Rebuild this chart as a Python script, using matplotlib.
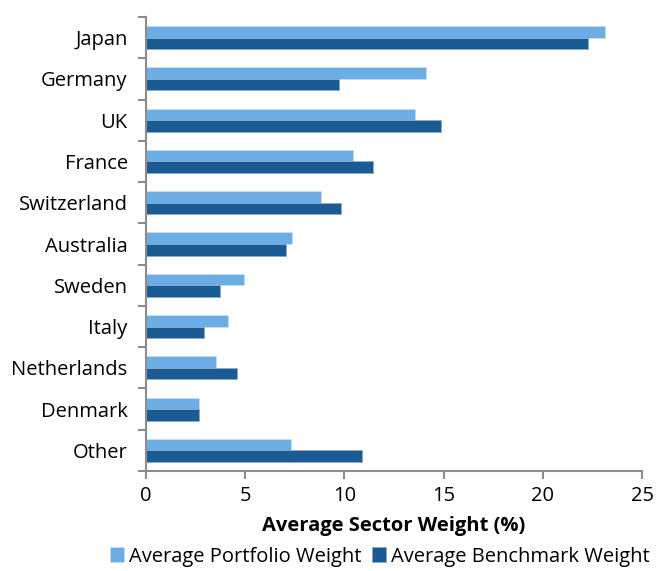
import matplotlib
matplotlib.use("Agg")
import matplotlib.pyplot as plt
import numpy as np

categories = ["Japan", "Germany", "UK", "France", "Switzerland", "Australia",
              "Sweden", "Italy", "Netherlands", "Denmark", "Other"]
portfolio = [23.1, 14.1, 13.55, 10.45, 8.8, 7.35, 4.93, 4.14, 3.55, 2.7, 7.31]
benchmark = [22.28, 9.74, 14.85, 11.42, 9.85, 7.06, 3.76, 2.93, 4.58, 2.68, 10.89]
series_names = ["Average Portfolio Weight", "Average Benchmark Weight"]
xticks = [0, 5, 10, 15, 20, 25]

plt.rcParams['font.family'] = ['Open Sans', 'DejaVu Sans']
fs = 14.5

fig = plt.figure(figsize=(6.57, 5.71), dpi=100)
ax = fig.add_axes([0.2218, 0.1751, 0.7558, 0.7951])

n = len(categories)
y = np.arange(n)
h = 0.28
light = "#6CADE5"
dark = "#1B5B93"
ax.barh(y - h / 2, portfolio, height=h, color=light, edgecolor="#C9DDF0",
        linewidth=0.6, label=series_names[0])
ax.barh(y + h / 2, benchmark, height=h, color=dark, edgecolor="#8FA9C4",
        linewidth=0.6, label=series_names[1])

ax.set_ylim(n - 0.5, -0.5)
ax.set_xlim(0, 25)
ax.set_yticks(y)
ax.set_yticklabels(categories, fontsize=fs)
ax.tick_params(axis='y', which='major', length=0, pad=13)
ax.set_yticks(np.arange(-0.5, n, 1.0), minor=True)
ax.tick_params(axis='y', which='minor', length=6, width=1.5, color="#8C8C8C")
ax.set_xticks(xticks)
ax.set_xticklabels([str(t) for t in xticks], fontsize=fs)
ax.tick_params(axis='x', length=6, width=1.5, color="#8C8C8C", pad=5)

for s in ["top", "right"]:
    ax.spines[s].set_visible(False)
for s in ["left", "bottom"]:
    ax.spines[s].set_color("#8C8C8C")
    ax.spines[s].set_linewidth(1.5)

ax.set_xlabel("Average Sector Weight (%)", fontsize=fs, fontweight="bold", labelpad=7)

leg = fig.legend(loc="lower center", bbox_to_anchor=(0.578, -0.024), ncol=2,
                 frameon=False, fontsize=fs, handlelength=0.7, handleheight=0.7,
                 handletextpad=0.25, columnspacing=0.5)

fig.savefig("out.png", dpi=100)
